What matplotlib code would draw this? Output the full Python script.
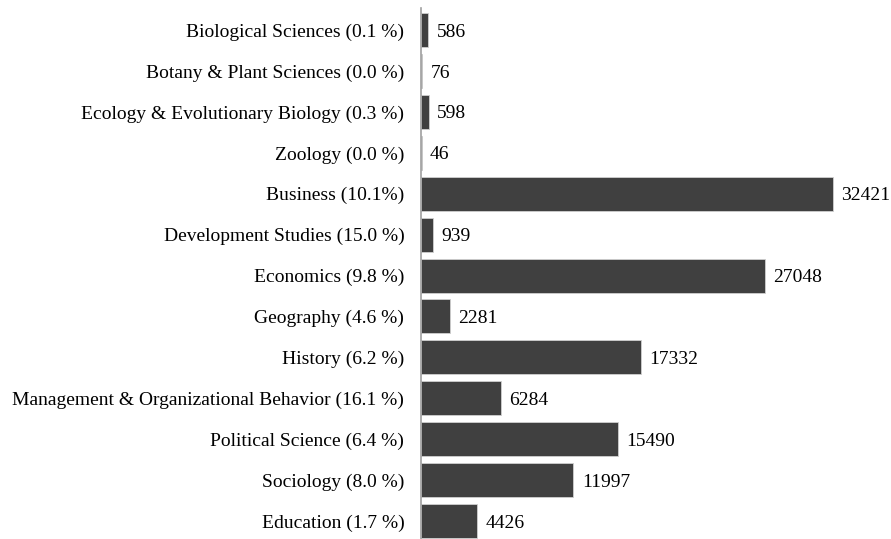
import matplotlib
matplotlib.use("Agg")
import matplotlib.pyplot as plt

categories = [
    "Biological Sciences (0.1 %)",
    "Botany & Plant Sciences (0.0 %)",
    "Ecology & Evolutionary Biology (0.3 %)",
    "Zoology (0.0 %)",
    "Business (10.1%)",
    "Development Studies (15.0 %)",
    "Economics (9.8 %)",
    "Geography (4.6 %)",
    "History (6.2 %)",
    "Management & Organizational Behavior (16.1 %)",
    "Political Science (6.4 %)",
    "Sociology (8.0 %)",
    "Education (1.7 %)",
]
counts = [586, 76, 598, 46, 32421, 939, 27048, 2281, 17332, 6284, 15490, 11997, 4426]

plt.rcParams["font.family"] = ["Liberation Serif", "DejaVu Serif"]

fig = plt.figure(figsize=(8.91, 5.39), dpi=100)
ax = fig.add_axes([421 / 891, 0, 470 / 891, 531 / 539])

y = list(range(len(categories)))
ax.barh(y, counts, height=0.83, color="#404040", edgecolor="#d0d0d0", linewidth=0.6)

for yi, v in zip(y, counts):
    ax.annotate(str(v), xy=(v, yi), xytext=(6, -1.5), textcoords="offset points",
                ha="left", va="center", fontsize=14, color="black")

ax.set_xlim(0, 32421 * 470 / 412)
ax.set_ylim(12.44, -0.54)
ax.set_yticks(y)
ax.set_yticklabels(categories, fontsize=14)
ax.tick_params(axis="y", length=0, pad=12)
ax.set_xticks([])
for s in ["top", "right", "bottom"]:
    ax.spines[s].set_visible(False)
ax.spines["left"].set_color("#a0a0a0")
ax.spines["left"].set_linewidth(1.2)

fig.savefig("out.png", dpi=100)
